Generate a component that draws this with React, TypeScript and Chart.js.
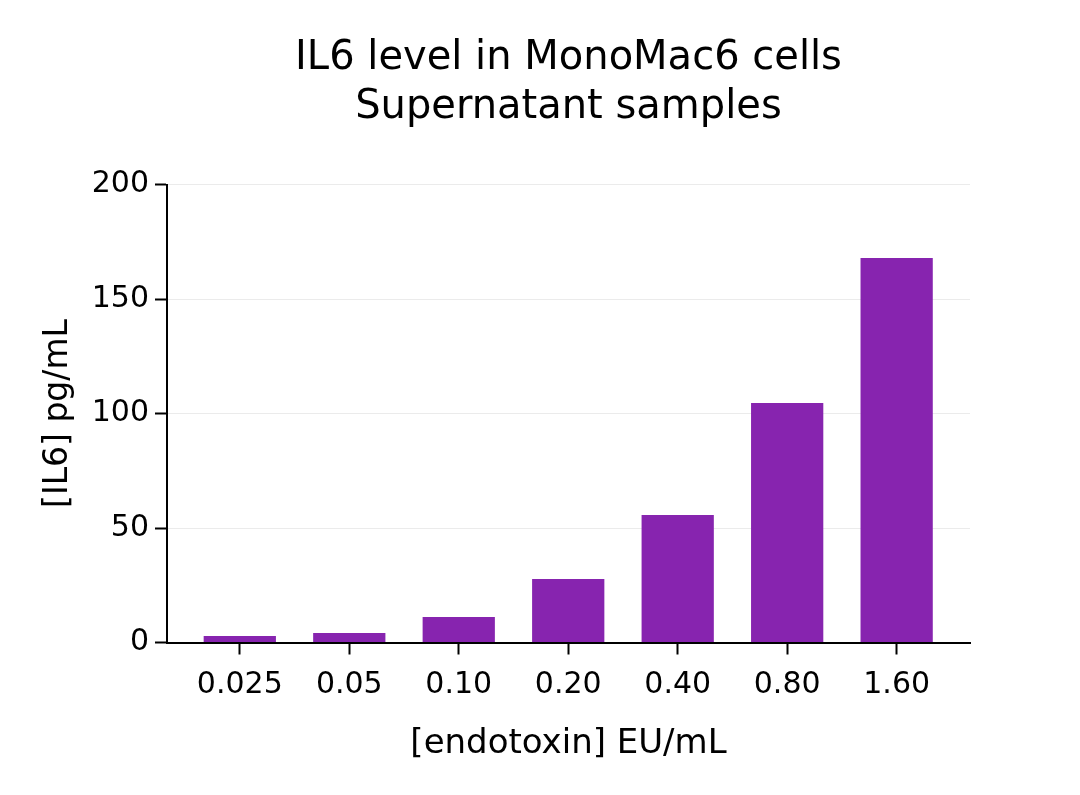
import { useEffect, useRef } from "react";
import Chart from "chart.js/auto";

// endotoxin concentrations (EU/mL) shown on the x axis
const CATEGORIES = ["0.025", "0.05", "0.10", "0.20", "0.40", "0.80", "1.60"];
// IL6 level (pg/mL)
const IL6_VALUES = [2.8, 4.1, 11.1, 27.7, 55.7, 104.6, 167.9];
const Y_MIN = 0;
const Y_MAX = 200;
const Y_STEP = 50;

const TITLE_LINES = ["IL6 level in MonoMac6 cells", "Supernatant samples"];
const X_TITLE = "[endotoxin] EU/mL";
const Y_TITLE = "[IL6] pg/mL";

const FONT = "'DejaVu Sans', 'Liberation Sans', sans-serif";
const BAR_COLOR = "#8724AF";

// two-line title centred over the plot area
const titlePlugin = {
  id: "plotTitle",
  afterDraw(chart: any) {
    const { ctx, chartArea } = chart;
    const cx = (chartArea.left + chartArea.right) / 2;
    ctx.save();
    ctx.font = `40px ${FONT}`;
    ctx.fillStyle = "#000";
    ctx.textAlign = "center";
    ctx.textBaseline = "alphabetic";
    TITLE_LINES.forEach((line, i) => ctx.fillText(line, cx, 69 + i * 49));
    ctx.restore();
  },
};

export default function App() {
  const canvasRef = useRef<HTMLCanvasElement>(null);
  const chartRef = useRef<Chart | null>(null);

  useEffect(() => {
    document.body.style.margin = "0";
    if (!canvasRef.current) return;
    if (chartRef.current) chartRef.current.destroy();

    chartRef.current = new Chart(canvasRef.current, {
      type: "bar",
      data: {
        datasets: [
          {
            label: "IL6",
            data: IL6_VALUES.map((y, i) => ({ x: i, y })),
            backgroundColor: BAR_COLOR,
            borderWidth: 0,
            barPercentage: 0.66,
            categoryPercentage: 1,
          },
        ],
      },
      options: {
        animation: false,
        responsive: true,
        maintainAspectRatio: false,
        layout: { padding: { top: 184.5, right: 110, bottom: 0, left: 0 } },
        plugins: {
          legend: { display: false },
          title: { display: false },
          tooltip: { enabled: false },
        },
        scales: {
          x: {
            type: "linear",
            min: -0.665,
            max: CATEGORIES.length - 1 + 0.67,
            offset: false,
            afterBuildTicks: (axis: any) => {
              axis.ticks = CATEGORIES.map((_, i) => ({ value: i }));
            },
            afterFit: (axis: any) => {
              axis.height = 152.5;
            },
            grid: {
              offset: false,
              drawOnChartArea: false,
              color: "#000",
              tickColor: "#000",
              tickLength: 12,
              tickWidth: 2,
            },
            border: { color: "#000", width: 2 },
            ticks: {
              autoSkip: false,
              maxRotation: 0,
              padding: 13,
              color: "#000",
              font: { family: FONT, size: 30 },
              callback: (v: any) => CATEGORIES[v] ?? "",
            },
            title: {
              display: true,
              text: X_TITLE,
              color: "#000",
              font: { family: FONT, size: 34 },
              padding: { top: 0, bottom: 30 },
            },
          },
          y: {
            min: Y_MIN,
            max: Y_MAX,
            afterFit: (axis: any) => {
              axis.width = 167;
            },
            grid: {
              color: "#ebebeb",
              lineWidth: 1,
              tickColor: "#000",
              tickLength: 12,
              tickWidth: 2,
            },
            border: { color: "#000", width: 2 },
            ticks: {
              stepSize: Y_STEP,
              padding: 6,
              color: "#000",
              font: { family: FONT, size: 30 },
            },
            title: {
              display: true,
              text: Y_TITLE,
              color: "#000",
              font: { family: FONT, size: 33 },
              padding: { top: 39, bottom: 0 },
            },
          },
        },
      },
      plugins: [titlePlugin],
    });

    return () => {
      if (chartRef.current) {
        chartRef.current.destroy();
        chartRef.current = null;
      }
    };
  }, []);

  return (
    <div style={{ width: 1080, height: 795, position: "relative", background: "#fff" }}>
      <canvas ref={canvasRef} />
    </div>
  );
}
